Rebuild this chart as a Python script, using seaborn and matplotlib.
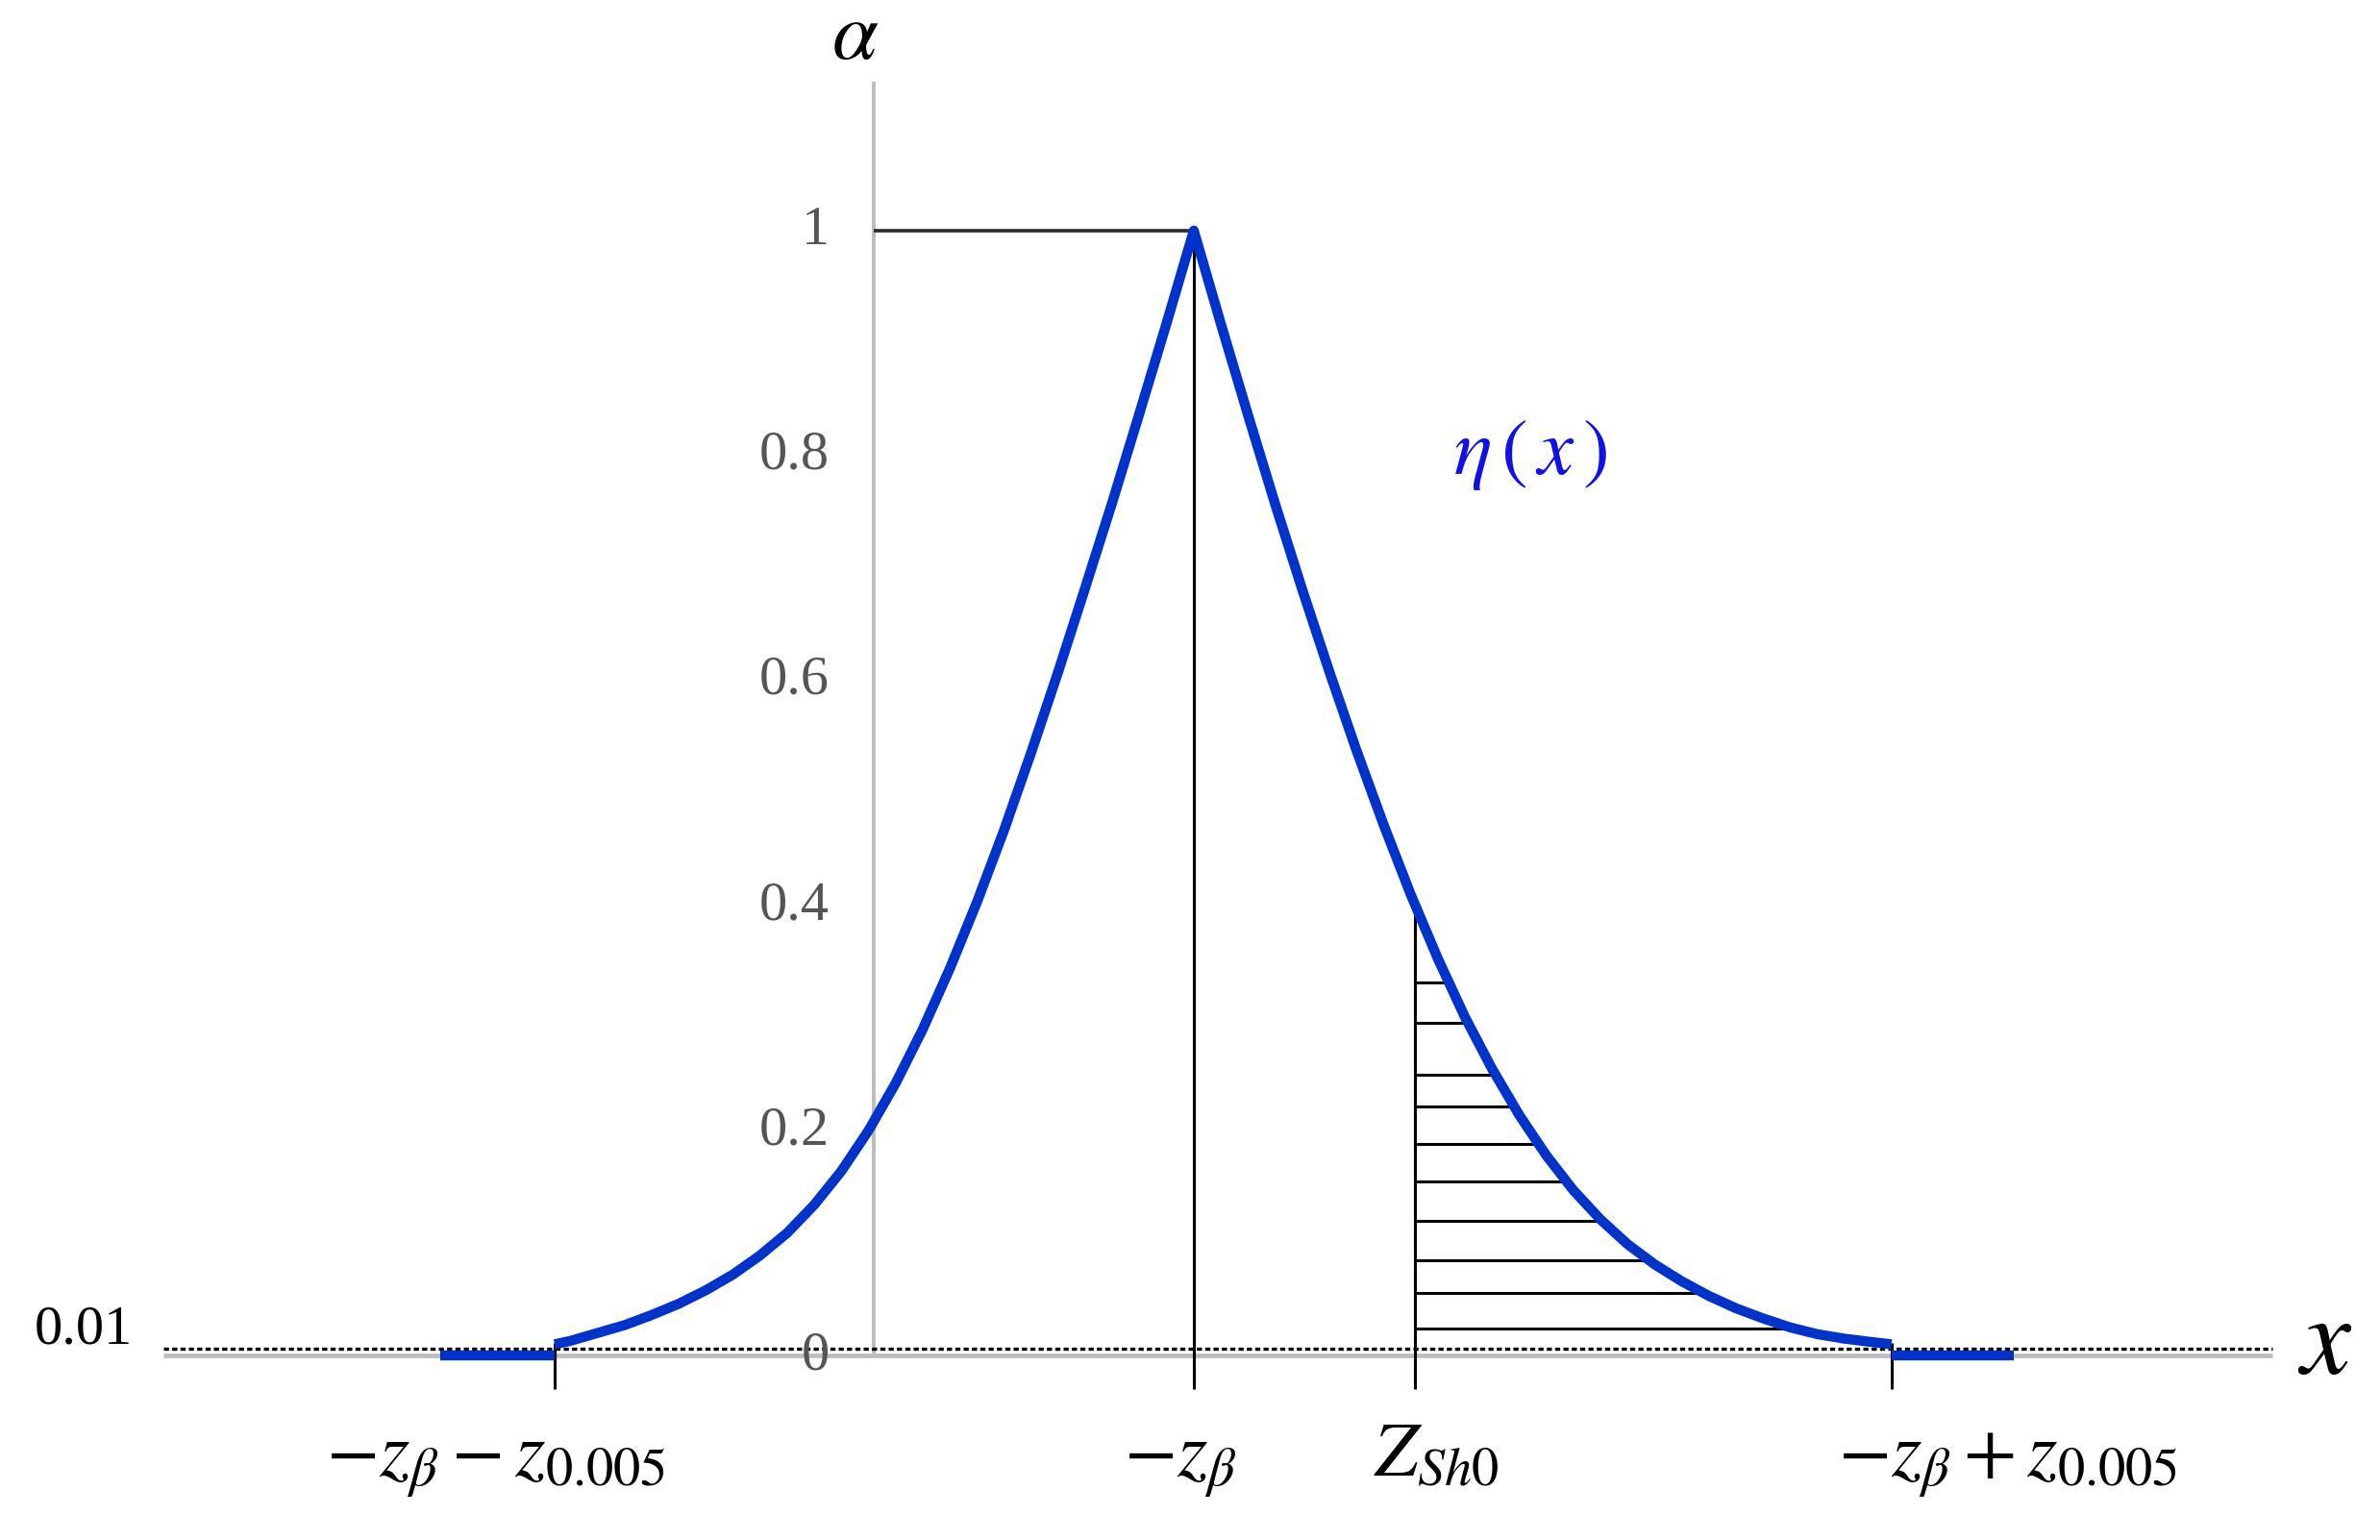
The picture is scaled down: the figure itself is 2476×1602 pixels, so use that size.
import numpy as np
import matplotlib
matplotlib.use("Agg")
import matplotlib.pyplot as plt
import seaborn as sns

# eta(x) curve (x in plot units, peak at -z_beta = 0)
left_x = [-2.358, -2.3, -2.2, -2.1, -2.0, -1.9, -1.8, -1.7, -1.6, -1.5, -1.4, -1.3,
          -1.2, -1.1, -1.0, -0.9, -0.8, -0.7, -0.6, -0.5, -0.4, -0.3, -0.2, -0.1, 0.0]
left_y = [0.010, 0.013, 0.020, 0.027, 0.036, 0.046, 0.058, 0.072, 0.089, 0.109, 0.134, 0.164,
          0.200, 0.242, 0.290, 0.344, 0.403, 0.467, 0.536, 0.608, 0.683, 0.759, 0.838, 0.918, 1.0]
right_x = [0.0, 0.1, 0.2, 0.3, 0.4, 0.5, 0.6, 0.7, 0.8, 0.9, 1.0, 1.1, 1.2, 1.3,
           1.4, 1.5, 1.6, 1.7, 1.8, 1.9, 2.0, 2.1, 2.2, 2.3, 2.4, 2.5, 2.574]
right_y = [1.0, 0.917, 0.836, 0.757, 0.681, 0.608, 0.538, 0.472, 0.410, 0.353, 0.301, 0.255, 0.214, 0.178,
           0.147, 0.121, 0.099, 0.081, 0.066, 0.053, 0.042, 0.033, 0.025, 0.019, 0.015, 0.012, 0.010]

# flat parts of eta outside the interval
flat_left = [-2.78, -2.358]
flat_right = [2.574, 3.025]

# key x positions
x_peak = 0.0            # -z_beta
x_low = -2.358          # -z_beta - z_0.005
x_high = 2.574          # -z_beta + z_0.005
x_sh0 = 0.816           # Z_Sh0
x_axis = -1.181         # vertical alpha axis

# hatch levels under the tail right of Z_Sh0
hatch_levels = [0.332, 0.296, 0.250, 0.221, 0.188, 0.155, 0.120, 0.085, 0.056, 0.024]

y_ticks = [0, 0.2, 0.4, 0.6, 0.8, 1]
y_tick_labels = ["0", "0.2", "0.4", "0.6", "0.8", "1"]
level = 0.006           # dotted 0.01 level as drawn

bottom_labels = [r"$-z_{\beta}-z_{0.005}$", r"$-z_{\beta}$", r"$Z_{Sh0}$", r"$-z_{\beta}+z_{0.005}$"]
bottom_pos = [-2.574, -0.050, 0.894, 3.004]

sns.set_theme(style="white")
plt.rcParams["font.family"] = ["Liberation Serif", "DejaVu Serif"]
plt.rcParams["mathtext.fontset"] = "stix"

blue = "#0033CC"
grey = "#BDBDBD"

fig = plt.figure(figsize=(24.76, 16.02), dpi=100)
ax = fig.add_axes([0, 0, 1, 1])
ax.set_xlim(-4.404, 4.376)
ax.set_ylim(-0.164, 1.205)
ax.axis("off")

# axes (grey)
ax.plot([-3.80, 3.98], [0, 0], color=grey, lw=3.4, solid_capstyle="butt", zorder=1)
ax.plot([x_axis, x_axis], [0, 1.1325], color=grey, lw=2.8, solid_capstyle="butt", zorder=1)

# dotted 0.01 level
ax.plot([-3.80, 3.98], [level, level], color="black", lw=2.4,
        linestyle=(0, (1.6, 1.0)), zorder=2)

# black guide lines
ax.plot([x_axis, x_peak], [1, 1], color="#2a2a2a", lw=2.6, solid_capstyle="butt", zorder=2)
ax.vlines(x_peak, -0.030, 1, color="black", lw=2.2, zorder=2)
ax.vlines([x_low, x_high], -0.030, 0.011, color="black", lw=2.2, zorder=2)

rx = np.array(right_x)
ry = np.array(right_y)
sh0_top = np.interp(x_sh0, rx, ry)
ax.vlines(x_sh0, -0.030, sh0_top, color="black", lw=2.2, zorder=2)

# hatching between Z_Sh0 and the curve
hatch_ends = np.interp(hatch_levels, ry[::-1], rx[::-1])
ax.hlines(hatch_levels, x_sh0, hatch_ends, color="black", lw=2.2, zorder=2)

# eta(x)
sns.lineplot(x=left_x + right_x[1:], y=left_y + right_y[1:], ax=ax, color=blue,
             linewidth=7.5, sort=False, estimator=None, zorder=4)
sns.lineplot(x=flat_left, y=[0, 0], ax=ax, color=blue, linewidth=7.5, zorder=4)
sns.lineplot(x=flat_right, y=[0, 0], ax=ax, color=blue, linewidth=7.5, zorder=4)
for ln in ax.lines[-3:]:
    ln.set_solid_capstyle("butt")
    ln.set_solid_joinstyle("round")

# y tick labels
for v, lab in zip(y_ticks, y_tick_labels):
    ax.text(-1.345, v, lab, ha="right", va="center", fontsize=42, color="#555555", zorder=3)

ax.text(-4.096, 0.023, "0.01", ha="center", va="center", fontsize=42, color="black")
ax.text(-1.248, 1.171, r"$\alpha$", ha="center", va="center", fontsize=62, color="black")
ax.text(4.174, 0.008, r"$x$", ha="center", va="center", fontsize=84, color="black")
ax.text(1.241, 0.800, r"$\eta\,(\,x\,)$", ha="center", va="center", fontsize=60, color="#1010E8")

for lab, xp in zip(bottom_labels, bottom_pos):
    ax.text(xp, -0.107, lab, ha="center", va="baseline", fontsize=58, color="black")

fig.savefig("out.png", dpi=100, facecolor="white")
